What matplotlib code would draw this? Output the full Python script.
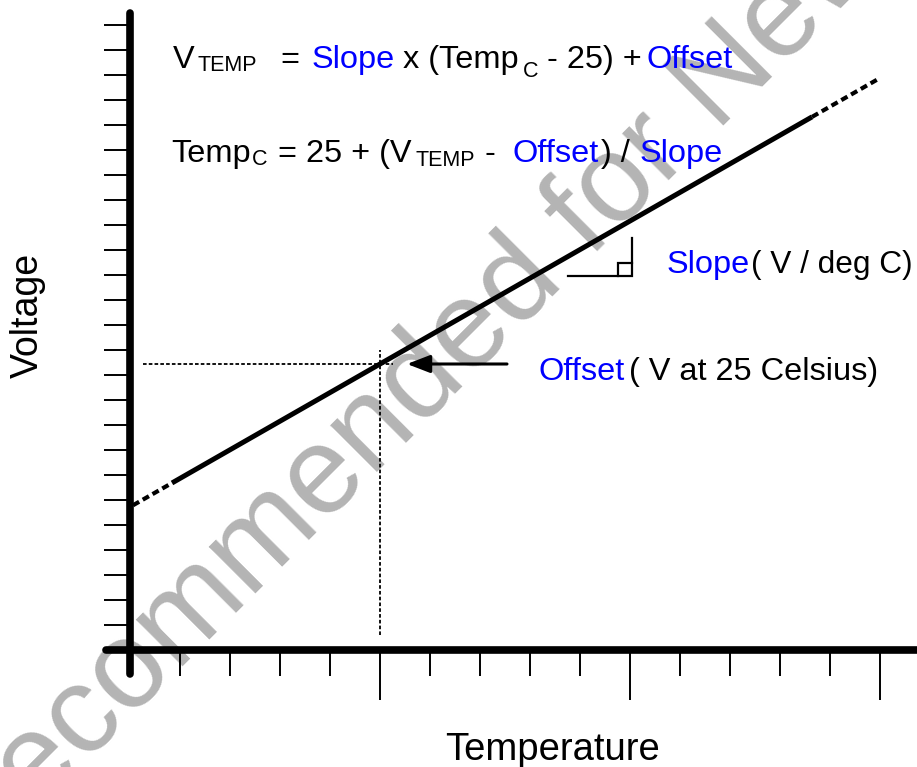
import matplotlib.pyplot as plt
import numpy as np
from matplotlib.transforms import IdentityTransform

plt.rcParams['font.family'] = ['Liberation Sans', 'DejaVu Sans']

W, H = 917, 767

# temperature in deg C, voltage in grid units
temp_minor = np.arange(5, 80, 5)
temp_major = np.array([25, 50, 75])
volt_ticks = np.arange(1, 26)

t_ref = 25.0        # reference temperature
offset_v = 11.44    # output at t_ref
slope_v = 0.2288    # change per deg C
t_low = np.array([0.3, 4.2])       # dotted, below specified range
t_solid = np.array([4.2, 68.2])    # specified range
t_high = np.array([68.2, 75.0])    # dotted, above specified range

BIG, SMALL = 23.4, 15.5
BLUE = '#0000ff'

# formula and label pieces: x, baseline (pixels from top), text, color, size
eq_runs = [
    (173, 68, 'V', 'black', BIG),
    (197, 71, 'TEMP', 'black', SMALL),
    (280, 68, '=', 'black', BIG),
    (312, 68, 'Slope', BLUE, BIG),
    (403, 68, 'x (Temp', 'black', BIG),
    (523, 77, 'C', 'black', SMALL),
    (547, 68, '- 25) +', 'black', BIG),
    (647, 68, 'Offset', BLUE, BIG),
    (171, 162, 'Temp', 'black', BIG),
    (252, 165, 'C', 'black', SMALL),
    (278, 162, '= 25 + (V', 'black', BIG),
    (415, 166, 'TEMP', 'black', SMALL),
    (485, 162, '-', 'black', BIG),
    (512, 162, 'Offset', BLUE, BIG),
    (601, 162, ') /', 'black', BIG),
    (640, 162, 'Slope', BLUE, BIG),
    (667, 273, 'Slope', BLUE, BIG),
    (751, 273, '( V / deg C)', 'black', 22.8),
    (538, 380, 'Offset', BLUE, BIG),
    (629, 380, '( V at 25 Celsius)', 'black', BIG),
]


def px(x, y):
    """Place text in image pixels (y measured from the top)."""
    return dict(x=x, y=H - y, transform=IdentityTransform())


def vtemp(t):
    return offset_v + slope_v * (np.asarray(t) - t_ref)


fig = plt.figure(figsize=(W / 100, H / 100), dpi=100)
ax = fig.add_axes([0, 0, 1, 1])
ax.set_xlim(-13, 78.7)
ax.set_ylim(-4.68, 26.0)

# axes through the origin with heavy rounded spines
for side in ['top', 'right']:
    ax.spines[side].set_visible(False)
for side in ['left', 'bottom']:
    ax.spines[side].set_position(('data', 0))
    ax.spines[side].set_linewidth(5.5)
    ax.spines[side].set_capstyle('round')
    ax.spines[side].set_zorder(4)
ax.spines['left'].set_bounds(-0.96, 25.5)
ax.spines['bottom'].set_bounds(-2.4, 80)

ax.set_xticks(temp_major)
ax.set_xticks(np.setdiff1d(temp_minor, temp_major), minor=True)
ax.set_yticks(volt_ticks)
ax.tick_params(axis='x', which='major', direction='out', length=36, width=1.4,
               labelbottom=False)
ax.tick_params(axis='x', which='minor', direction='out', length=18.7, width=1.4)
ax.tick_params(axis='y', which='major', direction='out', length=18.7, width=1.4,
               labelleft=False)

# transfer line: solid over the specified range, dotted outside it
ax.plot(t_solid, vtemp(t_solid), color='black', lw=3.6,
        solid_capstyle='butt', zorder=3)
for seg in (t_low, t_high):
    ax.plot(seg, vtemp(seg), color='black', lw=3,
            linestyle=(0, (1.7, 1.0)), zorder=3)

# guides to the offset point at the reference temperature
ax.plot([1.3, t_ref + 1.3], [offset_v, offset_v], color='black', lw=1.3,
        linestyle=(0, (2, 1.2)), zorder=3)
ax.plot([t_ref, t_ref], [0.6, offset_v + 0.56], color='black', lw=1.3,
        linestyle=(0, (2, 1.2)), zorder=3)

ax.annotate('', xy=(t_ref + 2.7, offset_v), xytext=(t_ref + 12.7, offset_v),
            arrowprops=dict(arrowstyle='-|>,head_length=0.7,head_width=0.27',
                            mutation_scale=20, lw=2.2, color='black',
                            shrinkA=0, shrinkB=0), zorder=3)

# right-angle slope glyph
ax.plot([43.8, 50.2, 50.2], [14.96, 14.96, 16.48], color='black', lw=1.6,
        solid_joinstyle='miter', zorder=3)
ax.plot([48.8, 48.8, 50.2], [14.96, 15.48, 15.48], color='black', lw=1.6,
        solid_joinstyle='miter', zorder=3)

for x, y, s, c, size in eq_runs:
    ax.text(s=s, color=c, fontsize=size, ha='left', va='baseline', zorder=5,
            **px(x, y))

ax.text(s='Voltage', fontsize=27, rotation=90, ha='center', va='center',
        **px(28, 315))
ax.text(s='Temperature', fontsize=27.5, ha='center', va='baseline',
        **px(553, 760))

# status watermark
ax.text(s='Not Recommended for New Designs', fontsize=89, color='#b4b4b4',
        rotation=45, rotation_mode='anchor', ha='center', va='center',
        zorder=0.5, **px(500, 304))

fig.savefig('out.png', dpi=100)
